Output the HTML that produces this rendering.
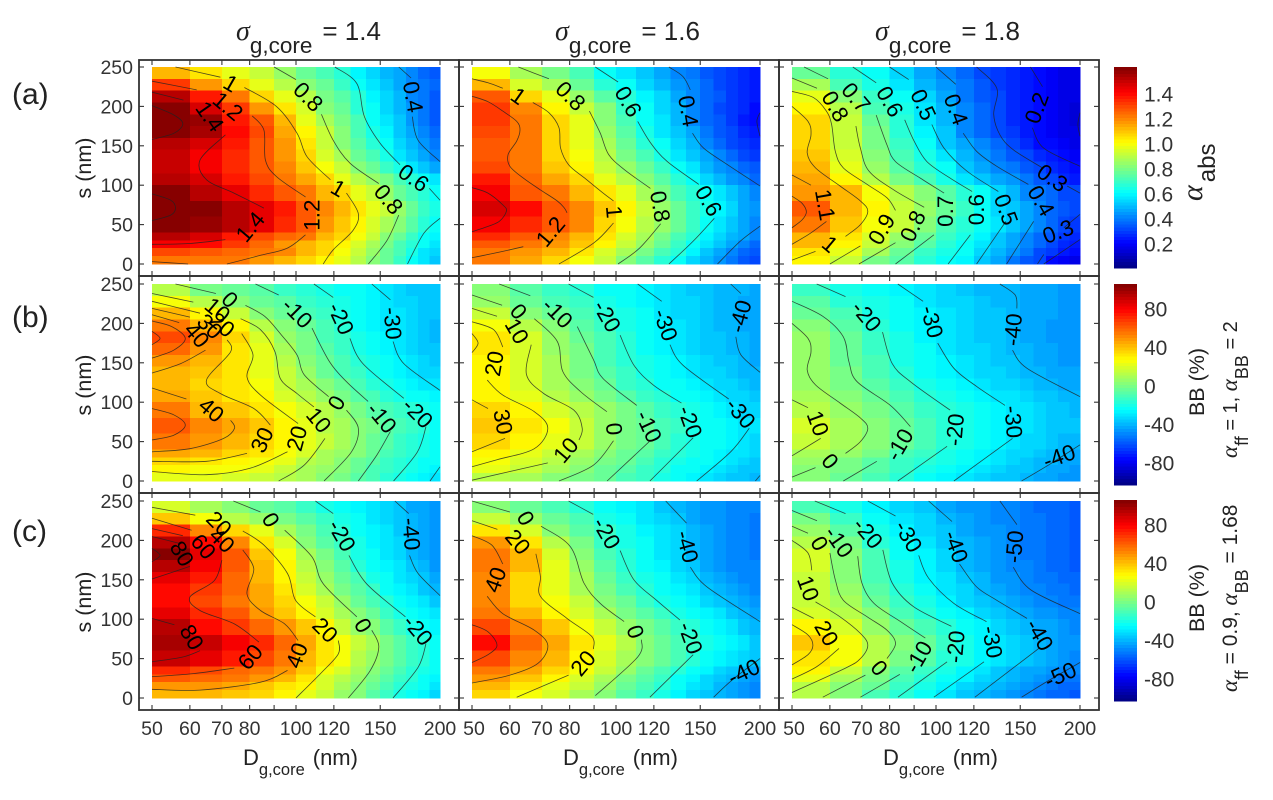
<!DOCTYPE html>
<html lang="en">
<head>
<meta charset="utf-8">
<title>Absorption and BB contour panels</title>
<style>
html,body{margin:0;padding:0;background:#fff;width:1273px;height:800px;overflow:hidden}
svg{display:block;font-family:"Liberation Sans",sans-serif;filter:blur(0.3px)}
.tick{font-size:19.5px;fill:#333}
.cl{font-size:22.5px;fill:#000}
.sg{font-family:"Liberation Serif",serif;font-style:italic}
.lab{fill:#222}
</style>
</head>
<body>
<svg id="chart" width="1273" height="800" viewBox="0 0 1273 800" xmlns="http://www.w3.org/2000/svg">
<rect width="1273" height="800" fill="#fff"/>
<g id="panels"></g>
<g id="colorbars"></g>

<g class="lab">
<text x="236" y="40" font-size="26"><tspan class="sg" font-size="28">σ</tspan><tspan font-size="22.5" dy="13">g,core</tspan><tspan dy="-13" dx="10">= 1.4</tspan></text>
<text x="555" y="40" font-size="26"><tspan class="sg" font-size="28">σ</tspan><tspan font-size="22.5" dy="13">g,core</tspan><tspan dy="-13" dx="10">= 1.6</tspan></text>
<text x="875" y="40" font-size="26"><tspan class="sg" font-size="28">σ</tspan><tspan font-size="22.5" dy="13">g,core</tspan><tspan dy="-13" dx="10">= 1.8</tspan></text>
</g>

<g class="lab" font-size="30">
<text x="12" y="104">(a)</text>
<text x="12" y="327">(b)</text>
<text x="12" y="541">(c)</text>
</g>

<g class="lab" font-size="21.5">
<text transform="translate(91,168) rotate(-90)" text-anchor="middle">s (nm)</text>
<text transform="translate(91,385) rotate(-90)" text-anchor="middle">s (nm)</text>
<text transform="translate(91,602) rotate(-90)" text-anchor="middle">s (nm)</text>
</g>

<g class="lab" font-size="22">
<text x="243" y="765">D<tspan font-size="16.5" dy="10">g,core</tspan><tspan dy="-10" dx="8">(nm)</tspan></text>
<text x="563" y="765">D<tspan font-size="16.5" dy="10">g,core</tspan><tspan dy="-10" dx="8">(nm)</tspan></text>
<text x="883" y="765">D<tspan font-size="16.5" dy="10">g,core</tspan><tspan dy="-10" dx="8">(nm)</tspan></text>
</g>

<g class="lab">
<text transform="translate(1202,201) rotate(-90)" font-size="24"><tspan class="sg" font-size="30">α</tspan><tspan dy="13" dx="3">abs</tspan></text>
<text transform="translate(1204,382) rotate(-90)" text-anchor="middle" font-size="21.5">BB (%)</text>
<text transform="translate(1204,598) rotate(-90)" text-anchor="middle" font-size="21.5">BB (%)</text>
<text transform="translate(1237,458) rotate(-90)" font-size="20"><tspan class="sg" font-size="23">α</tspan><tspan font-size="18" dy="11">ff</tspan><tspan dy="-11"> = 1, </tspan><tspan class="sg" font-size="23">α</tspan><tspan font-size="18" dy="11">BB</tspan><tspan dy="-11"> = 2</tspan></text>
<text transform="translate(1237,692) rotate(-90)" font-size="21"><tspan class="sg" font-size="23">α</tspan><tspan font-size="18" dy="11">ff</tspan><tspan dy="-11"> = 0.9, </tspan><tspan class="sg" font-size="23">α</tspan><tspan font-size="18" dy="11">BB</tspan><tspan dy="-11"> = 1.68</tspan></text>
</g>
</svg>

<script>
// ---- axes data ----
const dEdges = [50,60,70,80,90,100,110,120,130,140,150,160,170,180,190,200];
const sEdges = [250,235,220,205,190,175,160,145,130,115,100,80,60,40,30,20,10,0];
const dTicks = [50,60,70,80,90,100,120,150,200];
const dTickLabels = [50,60,70,80,100,120,150,200];
const sTicks = [0,50,100,150,200,250];
const alphaBarTicks = ['0.2','0.4','0.6','0.8','1.0','1.2','1.4'];
const bbBarTicks = ['-80','-40','0','40','80'];

// ---- heat values: rows run top (s=250) to bottom (s=0); columns D=50..190 ----
// Row (a) holds alpha_abs x 100; rows (b) and (c) hold BB in %.
const heatA14 = [
[112,104,96,90,84,77,71,65,59,54,49,45,40,37,34],
[130,117,105,96,89,82,75,69,62,57,52,47,42,38,35],
[150,135,120,107,97,89,79,73,65,59,54,48,42,38,34],
[160,145,130,117,104,93,82,75,67,60,54,49,43,38,33],
[160,155,137,125,110,97,87,78,70,62,56,50,44,39,34],
[160,153,138,128,114,100,90,80,72,64,58,52,46,40,35],
[152,146,136,127,116,103,92,82,74,66,60,54,48,43,38],
[148,142,134,125,116,105,94,85,77,70,63,57,51,46,41],
[148,142,134,126,118,109,99,90,82,76,69,63,56,51,46],
[152,145,136,128,120,114,105,97,89,84,78,72,65,60,55],
[160,152,144,133,125,121,112,105,97,90,83,77,72,66,60],
[160,158,152,144,135,127,119,111,103,96,90,83,75,69,63],
[158,156,150,143,133,125,117,108,100,93,86,80,73,67,62],
[150,146,137,128,123,120,112,105,98,90,82,75,68,62,58],
[140,138,131,124,117,111,106,101,93,85,78,72,65,60,56],
[128,126,124,122,119,111,105,98,90,83,76,70,63,57,53],
[120,120,120,115,110,105,102,96,89,82,75,68,60,55,51]];
const heatA16 = [
[98,86,78,71,62,56,51,46,42,38,34,31,28,25,23],
[112,94,85,76,67,60,54,49,44,40,36,32,29,26,24],
[125,107,95,84,74,65,58,53,47,42,37,33,29,26,24],
[130,118,102,90,80,69,61,54,48,42,36,32,28,25,22],
[130,122,107,96,82,71,61,55,49,42,37,33,28,24,21],
[128,121,107,97,84,73,64,57,51,45,39,34,30,26,23],
[127,120,106,96,85,75,67,60,54,48,42,37,32,28,25],
[127,120,107,98,88,78,70,63,57,51,45,40,36,32,29],
[128,120,109,101,92,83,75,68,61,55,49,44,40,36,33],
[135,124,114,105,97,88,80,73,66,60,54,49,44,40,37],
[142,127,121,111,103,95,87,79,72,66,60,55,50,46,42],
[147,139,127,118,108,100,91,84,76,69,63,58,53,47,43],
[142,134,127,118,107,98,89,83,77,69,62,56,50,45,42],
[133,127,119,112,104,94,87,79,71,65,59,54,49,45,41],
[125,122,116,108,100,91,83,76,69,62,56,51,45,40,37],
[122,116,110,103,94,86,78,72,65,58,52,47,40,36,33],
[120,114,107,98,90,81,74,67,60,54,48,43,38,34,31]];
const heatA18 = [
[76,66,60,53,47,42,37,32,28,25,23,20,18,16,15],
[86,72,63,56,49,44,38,33,29,26,24,21,19,17,16],
[95,82,68,60,53,46,39,34,30,27,24,21,19,17,15],
[102,89,72,63,55,48,40,35,30,27,23,20,18,16,14],
[106,90,77,66,57,49,41,36,31,27,23,20,18,16,14],
[107,91,78,67,58,50,42,37,32,28,24,21,19,17,15],
[107,92,79,68,60,52,45,40,35,30,27,22,20,18,16],
[108,93,80,70,63,56,48,43,38,34,30,26,23,20,18],
[110,96,83,74,67,60,52,47,42,38,34,30,26,23,20],
[113,100,88,79,71,64,57,52,47,43,38,34,30,27,24],
[116,110,98,88,81,73,67,60,53,48,42,39,35,32,30],
[126,110,102,92,84,75,68,61,54,50,45,40,37,34,32],
[120,108,99,91,80,72,66,60,55,50,45,40,36,32,29],
[110,103,94,84,77,69,63,58,52,47,42,37,33,29,26],
[110,100,90,82,74,67,61,56,51,45,40,35,31,27,24],
[104,95,85,77,69,64,60,54,48,43,38,32,28,24,21],
[100,91,79,73,66,62,58,50,45,39,34,31,22,19,17]];
const heatB14 = [
[10,-1,-5,-9,-13,-16,-19,-22,-25,-28,-30,-33,-35,-36,-37],
[24,12,2,-4,-9,-13,-18,-20,-23,-26,-29,-32,-34,-35,-37],
[38,28,14,3,-4,-10,-15,-19,-23,-26,-29,-31,-33,-35,-37],
[53,40,26,11,1,-5,-11,-17,-22,-26,-29,-31,-33,-36,-38],
[60,49,32,18,6,-3,-10,-15,-20,-24,-27,-30,-33,-36,-38],
[54,44,31,20,8,-2,-9,-14,-19,-23,-26,-29,-32,-35,-37],
[46,39,30,20,11,1,-6,-12,-17,-21,-25,-28,-31,-34,-36],
[40,36,30,21,13,4,-4,-10,-15,-20,-23,-26,-29,-32,-34],
[38,34,29,22,15,8,1,-5,-11,-16,-19,-23,-26,-29,-31],
[42,36,31,25,18,12,5,-1,-7,-12,-16,-19,-22,-25,-27],
[50,40,35,31,24,16,10,4,-2,-7,-12,-15,-18,-21,-23],
[58,48,42,35,28,20,12,7,3,-2,-7,-12,-15,-18,-22],
[50,44,39,34,26,20,13,7,1,-4,-9,-13,-16,-20,-23],
[42,38,33,29,23,16,9,4,0,-6,-11,-14,-17,-21,-24],
[33,31,28,23,19,12,7,1,-4,-8,-13,-16,-19,-22,-25],
[25,23,22,20,14,9,5,0,-5,-10,-14,-18,-21,-24,-27],
[21,20,18,14,11,7,3,-2,-7,-11,-16,-19,-23,-26,-29]];
const heatB16 = [
[1,-8,-13,-18,-22,-25,-28,-31,-33,-35,-37,-38,-39,-40,-41],
[6,-4,-10,-15,-20,-23,-27,-30,-32,-34,-36,-38,-39,-41,-42],
[14,3,-5,-11,-16,-21,-25,-29,-32,-34,-36,-38,-40,-41,-42],
[23,11,1,-7,-13,-19,-24,-28,-31,-34,-36,-38,-40,-42,-43],
[30,17,4,-4,-12,-18,-23,-27,-30,-33,-36,-37,-38,-40,-43],
[31,17,6,-3,-11,-17,-22,-26,-29,-32,-35,-37,-38,-40,-42],
[27,16,7,-2,-10,-16,-21,-25,-28,-31,-33,-35,-37,-39,-41],
[26,16,8,-1,-9,-15,-20,-24,-27,-30,-32,-34,-36,-38,-40],
[25,17,9,2,-6,-13,-18,-22,-25,-28,-30,-32,-34,-36,-38],
[28,20,12,6,-2,-9,-14,-18,-22,-25,-28,-30,-32,-34,-36],
[33,26,18,12,4,-3,-9,-14,-18,-21,-24,-27,-29,-32,-34],
[37,29,22,14,6,-1,-6,-11,-15,-19,-23,-25,-27,-29,-31],
[34,28,19,13,6,-1,-6,-12,-16,-19,-23,-25,-27,-29,-32],
[26,20,13,9,2,-4,-9,-14,-18,-21,-24,-26,-29,-31,-33],
[22,18,12,6,-1,-6,-11,-16,-20,-23,-25,-28,-31,-33,-35],
[19,13,8,2,-4,-9,-14,-18,-22,-25,-27,-31,-33,-35,-37],
[12,8,3,-1,-6,-11,-15,-20,-24,-27,-30,-33,-35,-37,-39]];
const heatB18 = [
[-13,-20,-24,-28,-31,-34,-36,-38,-39,-40,-41,-42,-43,-44,-45],
[-9,-16,-21,-25,-29,-32,-34,-36,-38,-39,-41,-42,-43,-44,-45],
[-4,-12,-19,-24,-28,-31,-33,-35,-37,-39,-41,-42,-43,-44,-45],
[1,-9,-17,-23,-27,-30,-33,-35,-37,-39,-41,-42,-44,-45,-46],
[5,-6,-15,-21,-26,-30,-33,-35,-37,-39,-41,-43,-44,-45,-46],
[5,-5,-14,-20,-25,-29,-32,-34,-36,-38,-40,-42,-43,-44,-45],
[6,-4,-12,-19,-24,-28,-31,-33,-35,-37,-39,-41,-42,-44,-45],
[5,-3,-11,-17,-23,-26,-29,-32,-34,-36,-38,-40,-41,-42,-43],
[5,-2,-8,-14,-20,-24,-27,-30,-32,-34,-36,-38,-39,-41,-42],
[8,1,-6,-11,-16,-20,-24,-27,-29,-31,-33,-35,-37,-38,-40],
[12,5,-3,-9,-13,-18,-21,-24,-27,-29,-31,-33,-35,-36,-38],
[16,7,1,-5,-11,-16,-20,-23,-26,-29,-31,-33,-35,-36,-37],
[14,7,0,-6,-12,-16,-21,-24,-27,-29,-32,-34,-36,-38,-39],
[8,4,-3,-10,-15,-20,-23,-26,-29,-32,-34,-36,-38,-40,-41],
[5,-1,-7,-13,-18,-21,-25,-28,-31,-33,-36,-38,-40,-42,-43],
[2,-3,-9,-15,-20,-24,-27,-30,-33,-35,-37,-39,-41,-43,-44],
[1,-6,-12,-18,-22,-26,-30,-32,-35,-37,-39,-41,-43,-44,-45]];
const heatC14 = [
[18,9,1,-4,-9,-13,-19,-23,-27,-30,-33,-37,-41,-43,-45],
[36,22,12,5,-3,-9,-15,-20,-25,-29,-32,-36,-40,-42,-44],
[66,48,32,20,8,-3,-11,-17,-23,-27,-31,-35,-39,-42,-45],
[90,72,48,30,16,1,-7,-14,-21,-26,-30,-34,-38,-43,-45],
[100,80,58,36,24,9,-3,-11,-20,-25,-29,-33,-38,-42,-45],
[90,76,58,38,25,12,0,-8,-17,-23,-27,-31,-36,-40,-44],
[80,70,56,40,27,15,5,-4,-12,-20,-25,-29,-33,-36,-42],
[74,65,54,42,30,18,9,-1,-9,-15,-22,-27,-31,-35,-39],
[72,62,52,42,32,22,13,4,-4,-11,-18,-24,-28,-31,-35],
[80,67,57,46,37,28,18,8,0,-5,-13,-19,-25,-28,-31],
[90,74,65,54,45,37,25,14,6,0,-7,-14,-20,-24,-28],
[92,86,75,66,54,42,30,22,14,7,-1,-7,-13,-18,-22],
[86,80,71,62,50,40,30,22,12,5,-2,-8,-13,-18,-23],
[68,60,55,50,44,36,24,16,8,1,-6,-11,-16,-20,-25],
[59,55,51,44,38,29,18,12,5,-3,-9,-14,-18,-23,-28],
[46,44,42,37,31,25,16,9,2,-5,-11,-16,-20,-25,-30],
[40,38,35,32,27,21,13,5,0,-7,-13,-19,-24,-28,-33]];
const heatC16 = [
[3,-5,-11,-16,-23,-27,-31,-35,-38,-41,-44,-46,-48,-49,-50],
[15,5,-5,-12,-19,-24,-29,-33,-36,-41,-44,-46,-48,-49,-51],
[30,18,3,-7,-15,-21,-26,-31,-34,-39,-43,-46,-48,-49,-51],
[44,30,11,-3,-13,-20,-25,-30,-34,-39,-42,-45,-47,-49,-51],
[52,40,18,3,-10,-18,-23,-29,-34,-39,-43,-46,-48,-50,-51],
[50,38,19,5,-8,-16,-22,-27,-32,-37,-41,-45,-47,-49,-50],
[48,34,20,7,-6,-14,-20,-25,-30,-34,-39,-43,-46,-48,-49],
[47,34,20,9,-3,-11,-17,-22,-28,-31,-36,-40,-43,-45,-47],
[47,34,22,13,2,-6,-13,-19,-24,-28,-32,-35,-39,-42,-44],
[52,39,27,17,7,-1,-9,-14,-20,-24,-28,-31,-36,-39,-41],
[60,47,35,24,13,6,-3,-8,-14,-18,-23,-27,-31,-35,-38],
[72,56,43,30,19,10,3,-4,-10,-15,-20,-24,-28,-31,-35],
[60,49,40,28,18,9,2,-5,-11,-17,-22,-26,-30,-34,-37],
[50,42,33,23,14,4,-4,-10,-18,-23,-28,-33,-36,-40,-43],
[44,36,28,18,8,-2,-9,-15,-22,-27,-32,-36,-39,-43,-46],
[40,30,20,13,4,-4,-12,-18,-25,-30,-34,-38,-41,-44,-47],
[32,24,17,9,2,-7,-14,-21,-27,-32,-36,-40,-43,-46,-48]];
const heatC18 = [
[-11,-21,-28,-32,-37,-41,-44,-46,-48,-50,-52,-54,-55,-56,-57],
[-3,-15,-24,-29,-34,-39,-42,-44,-47,-49,-52,-53,-55,-56,-57],
[5,-9,-20,-26,-32,-37,-41,-44,-46,-48,-51,-53,-55,-56,-57],
[11,-3,-16,-24,-30,-35,-40,-43,-46,-48,-51,-53,-55,-56,-58],
[16,0,-12,-22,-28,-34,-39,-43,-46,-48,-51,-53,-55,-56,-58],
[16,1,-11,-21,-27,-33,-38,-42,-45,-48,-50,-52,-54,-55,-57],
[15,2,-10,-19,-26,-31,-36,-40,-44,-46,-49,-51,-53,-54,-56],
[15,4,-8,-17,-24,-29,-34,-38,-41,-44,-47,-49,-51,-53,-54],
[15,7,-4,-14,-21,-27,-32,-36,-39,-42,-45,-47,-49,-51,-52],
[18,11,0,-10,-17,-23,-28,-32,-35,-38,-41,-44,-46,-48,-49],
[26,17,5,-4,-12,-18,-23,-28,-32,-35,-38,-41,-43,-45,-47],
[36,22,12,2,-6,-13,-21,-26,-30,-34,-37,-39,-42,-44,-46],
[30,22,10,-1,-8,-16,-21,-27,-31,-34,-37,-39,-42,-45,-48],
[26,13,2,-7,-13,-20,-26,-31,-35,-38,-41,-43,-46,-48,-50],
[20,8,-2,-11,-17,-23,-28,-33,-37,-40,-43,-46,-49,-51,-53],
[12,3,-6,-14,-20,-26,-32,-36,-40,-43,-46,-49,-52,-54,-55],
[10,0,-10,-17,-23,-30,-35,-39,-43,-46,-49,-52,-54,-56,-57]];

// ---- contour traces: [level, D,s, D,s, ...] ----
const contA14 = [
[1.6,50,201,55.6,189,58,178,55.6,166,50,158],[1.6,50,89,54.7,81,56,71,54.7,62,50,55],
[1.4,50,218,58.2,208],[1.4,71.2,164,63,132,65,107,74.2,90,85.7,71],[1.4,71.2,31,60,26,50,25],
[1.2,50,232,62,221],[1.2,81,188,85.7,170,86.3,132,91,111,104.7,85],[1.2,104.7,37,95.8,20,84.3,11,71.7,0],[1.2,59.5,0,50,3],
[1,56,250,69.5,237],[1,78,224,91,200,100.5,166,105.5,136,118,107],[1,127.5,90,135,64,131.7,43,119.6,18,114,0],
[0.8,90,250,100,234],[0.8,113,190,119.6,157,129.6,128,149,102],[0.8,164,62,155,30,141.7,0],
[0.6,120.6,250,134,229,139,187,150,153,165,126],[0.6,190,96,200,81],[0.6,200,58,185,39,171,0],
[0.4,164,250,174,236],[0.4,175,187,180,157,200,130]];
const contA16 = [
[1.4,50,97,54,90,58,75,59,67,57,54,53,46,50,41],
[1.2,50,213,54,206,58,194,62,181,63,170,62,156,59.5,139,60,124,64,109,69.5,94,75.4,80,78,71,79,65],[1.2,64,22,58,16,53,11,50,8],
[1,50,235,54,230,58,223],[1,67,205,72.4,192,76,173,76.6,147,79.6,126,86,109,94,90,98.8,80],[1,98.8,52,90,27,76,0],
[0.8,62.5,250,72.4,235],[0.8,88,194,92.7,166,96.5,139,104,120,118,96],[0.8,124,51,112,20,101,0],
[0.6,90.5,250,101,231],[0.6,111,181,118,154,128,130,149,101],[0.6,160.5,58,145,29,129,0],
[0.4,129,250,138,238,143,221],[0.4,144.5,166,152.5,147,171,126,200,99],[0.4,200,48,182,29,163,0],
[0.2,200,192,197,181,200,162]];
const contA18 = [
[1.2,50,86,52.5,77,53.6,66,52.5,56,50,46],[1.1,50,113,54.8,100],[1.1,59,54,54.6,39,50,25],
[1,50,200,54,181,54.8,164,53.8,141,56,122,63,99,69.5,80,72,67,69.5,50,64.7,35],[1,56,16,50,5],
[0.9,50,219,55.5,211,59,194,60.5,177,61.6,143,64,122,71.8,101,79,84,82.3,68],[0.9,69.5,23,60,0],
[0.8,50,236,56.4,223],[0.8,68,175,69.5,147,72.4,118,81.6,94,94.5,72],[0.8,82.3,27,69,0],
[0.7,53,250,59.5,235],[0.7,75,189,79,151,82.3,130,92.7,109,104,90],[0.7,99,37,82.3,0],
[0.6,67,250,75,230],[0.6,86,183,90,156,95.7,130,107,109,119,92],[0.6,118,37,106,0],
[0.5,80,250,87.7,234],[0.5,98,177,104,147,116,118,135,92],[0.5,140,54,121.6,0],
[0.4,100,250,110,228],[0.4,114,166,121.6,143,134,124,156,101],[0.4,160,54,140.5,0],
[0.3,121.6,250,134,223,132,190,136,164,145,145,167,122],[0.3,188,99,200,90],[0.3,200,63,185,46],[0.3,168,12,163,0],
[0.2,157.5,250,167,225],[0.2,159,173,168,147,200,124],[0.2,200,31,168,0],
[0.15,200,192,198,177,200,162]];
const contB14 = [
[60,50,190,52,181,50,173],[50,50,203,55,196,58.7,181,55.5,166,50,156],[50,50,92,55.5,84,58.7,71,55.5,58,50,52],
[40,50,211,57,201],[40,64.7,166,57.4,149,50,137],[40,50,118,59,104],[40,73,77,74.4,67,70.6,54,60,41,50,37],
[30,50,219,60,208],[30,71.8,179,73,164,65,128,69.5,111,81.6,92,88.4,71],[30,79,35,65,25,50,25],
[20,50,228,63,213],[20,77,187,81.3,160,79,132,84.3,109,101,73],[20,96,37,80,16,65,8,50,12],
[10,50,238,61,227],[10,76.6,206,84.3,192,90.4,164,92.7,130,100.5,111,109,94],[10,115,54,104,20,92,0],
[0,56,250,68,238],[0,78.4,223,86,209,92.7,187,100.5,160,104,135,117,107],[0,127.5,90,135,67,130.6,37,114.5,0],
[-10,82.3,250,92,236],[-10,108,194,117.6,151,127.5,126,141.5,101],[-10,157.5,63,147.6,33,135,0],
[-20,109,250,119.6,233],[-20,129.6,181,138,149,168,105],[-20,187,69,179.5,37,160,0],
[-30,144,250,157.5,230],[-30,159.5,177,168,149,200,115],[-30,200,18,190.6,0]];
const contB16 = [
[30,50,187,51.5,175,50,163],[30,50,103,54,92],[30,58.6,54,50,37],
[20,50,202,55.5,192,58,170],[20,53.8,128,58,109,67.5,88,72,67,67.5,41,56.4,27,50,18],
[10,50,219,56.4,209],[10,66.5,173,65,135,70.6,111,81.6,90,85,67,83.7,52],[10,72,23,50,1],
[0,50,236,57.8,223],[0,67.5,206,75.4,177,77.4,139,84.5,113,95.7,88],[0,98.8,51,89.7,20,76,0],
[-10,57,250,66.2,235],[-10,83,196,89.7,154,94,130,110.5,96],[-10,117.4,50,95.8,0],
[-20,79.6,250,89.7,233],[-20,102,185,109,147,119.6,122,137,99],[-20,145,55,117.7,0],
[-30,111,250,124.6,228],[-30,129.6,173,138,147,172,104],[-30,190,67,173.7,37,147.5,0],
[-40,173.7,250,182.4,238],[-40,178,183,182.4,160,200,138],[-40,200,7,195.6,0]];
const contB18 = [
[10,50,103,54,93],[10,57.4,54,50,32],
[0,50,200,54,181,54.8,164,53.8,141,56,122,63,99,69.5,80,72,67,69.5,50,64.7,35],[0,56,17,50,5],
[-10,50,228,58,209,64,183,65.8,151,68.4,126,80.3,96,88.4,69],[-10,75.2,25,64,0],
[-20,56.3,250,64.7,234],[-20,77.3,189,81,149,88.4,126,107,90],[-20,105.5,44,83.2,0],
[-30,83.2,250,94,228],[-30,100.8,175,109,143,121.6,120,139.4,96],[-30,144.5,54,109,0],
[-40,136,250,146.4,236,147.6,219],[-40,144.5,166,155,143,200,107],[-40,200,46,173.7,22,151,0]];
const contC14 = [
[100,50,190,52,181,50,173],
[80,50,205,57.3,196],[80,60,167,50,151],[80,50,101,55.7,93],[80,63,60,58,52,50,46],
[60,50,215,58,206],[60,70,175,67.5,149,60,128,63,111,74.3,94,83.7,71],[60,74.3,38,61,31,50,27],
[40,50,228,60.5,213],[40,77.4,188,81.6,164,79,132,84.3,111,94.7,94,101,73],[40,96,35,84.3,20,63,10,50,11],
[20,50,242,61.6,232],[20,77.4,212,85.7,194,96,158,99.8,124,109.8,103],[20,122.6,73,122.6,56,112.5,31,100,0],
[0,74,250,84.3,236],[0,94.7,213,108,179,114,145,134,103],[0,144,86,149,65,143,35,128.6,0],
[-20,109.8,250,119.6,234],[-20,129,181,140.4,145,169.3,103],[-20,187,69,180,39,159.5,0],
[-40,161,250,172,234],[-40,172.7,181,180,158,200,130]];
const contC16 = [
[60,50,93,54,84,56.4,67,54,55,50,45],
[40,50,206,55,194,58,170],[40,53.8,129,58,107,67.5,86,72,67,68.7,44,60,29,50,19],
[20,50,225,56.5,214],[20,68,183,69.5,154,69.5,129,79,101,89,78,89.7,62],[20,79.6,29,62,1],
[0,50,250,60,236],[0,69.7,218,80.3,192,85.7,146,92.7,120,104,97],[0,113,74,111,52,90.5,3],
[-20,79.6,250,89.6,233],[-20,102,187,109,150,121.6,124,136,99],[-20,145,55,117.7,1],
[-40,127,250,140.4,222],[-40,143,166,155,141,200,97],[-40,200,50,175,23,160,1]];
const contC18 = [
[30,50,93,54,80,55.3,67,54,55,50,42],
[20,50,115,55.5,101],[20,62.7,63,56.4,40,50,24],
[10,50,200,54,184,55,162],[10,56,122,63,103,69.5,82,72,67,69.5,50,64.7,38,50,7],
[0,50,218,54,209],[0,60,184,61.6,150,64,124,71.8,103,79,86,82.3,69,79,50],[0,71.2,29,58,1],
[-10,50,238,56.4,225],[-10,68.6,180,70,146,74.2,120,84.3,97,95,76],[-10,84,30,69.5,1],
[-20,55.8,250,64.7,234],[-20,77.4,188,81,146,89.7,116,107.7,91],[-20,105.5,46,83.3,1],
[-30,72,250,82.3,231],[-30,92,181,96.5,152,109,120,127.5,97],[-30,126,46,99,1],
[-40,96.5,250,108,224],[-40,112,170,121.6,141,134,124,155,101],[-40,164,63,120.6,1],
[-50,136,250,147.6,220],[-50,145,166,158,137,200,107],[-50,200,45,170.7,21,151,1]];

// ---- inline contour labels: [text, D, s, rotation] ----
const labelsA14 = [['1.4',66,187,55],['1.2',72,200,40],['1',73,229,30],['0.8',106,212,45],['0.4',175.5,212,80],['0.6',176,109,35],['1',122.5,96,30],['0.8',156,82,50],['1.4',80.3,47,-50],['1.2',108,62,-90]];
const labelsA16 = [['1',62.5,213,35],['0.8',80.3,213,45],['0.6',106,206,60],['0.4',141.5,194,80],['1.2',73,41,-50],['1',99,66,85],['0.8',123.6,73,80],['0.6',156,80,60]];
const labelsA18 = [['1.1',58.6,75,80],['1',60,25,40],['0.9',77,44,-60],['0.8',89.5,48,-65],['0.7',104.7,67,-90],['0.6',121.6,69,-90],['0.5',140,69,70],['0.4',165.7,80,60],['0.3',175,109,35],['0.3',180,41,-20],['0.8',61.5,200,60],['0.7',68,211,50],['0.6',80,206,60],['0.5',94,202,65],['0.4',110,196,70],['0.2',162.5,198,-70]];
const labelsB14 = [['0',72.7,230,45],['10',68.5,217,40],['20',70,198,40],['30',66,196,45],['40',62,185,50],['40',66.5,90,40],['30',85,52,-65],['20',100.5,54,-75],['10',111.5,77,50],['0',121.6,99,-60],['-10',100.5,213,45],['-10',151,80,50],['-20',124,206,65],['-20',179.5,86,45],['-30',159,200,85]];
const labelsB16 = [['30',58,75,80],['20',55.7,149,-80],['10',62,190,60],['0',62.5,215,50],['10',78.6,39,-50],['0',99,66,85],['-10',75.4,213,45],['-10',117,69,65],['-20',95.7,209,60],['-20',142.7,75,70],['-30',126.8,198,70],['-30',182,86,50],['-40',182,209,-75]];
const labelsB18 = [['10',56.6,73,70],['0',60,25,50],['-10',84,46,-60],['-20',71.5,209,50],['-20',109.7,65,-85],['-30',98,202,75],['-30',145,75,85],['-40',145,192,-85],['-40',181,31,-20]];
const labelsC14 = [['20',69,221,45],['40',70,200,45],['60',64,192,50],['80',57.7,183,60],['80',60.5,77,60],['60',80.3,52,-50],['40',100.5,54,-70],['20',115,86,45],['0',88.5,226,60],['0',138,92,60],['-20',124.6,206,60],['-20',179.7,86,50],['-40',174,208,85]];
const labelsC16 = [['40',56,150,-70],['20',62.3,198,50],['0',64.7,228,60],['20',85.4,44,-50],['0',109.7,84,70],['-20',95.5,209,60],['-20',143,76,70],['-40',140.8,192,75],['-40',185,33,-25]];
const labelsC18 = [['20',59,82,60],['0',57,196,60],['10',54,139,70],['0',76,38,50],['-10',62.6,198,55],['-10',92,52,-60],['-20',72,209,50],['-20',110,65,-85],['-30',87.5,205,60],['-30',131,71,80],['-40',110,192,70],['-40',164.5,80,60],['-50',146,192,-85],['-50',182,29,-25]];

const panelList = [
 {id:'a-1-4',row:0,col:0,heat:heatA14,cont:contA14,labels:labelsA14,lo:0,hi:160},
 {id:'a-1-6',row:0,col:1,heat:heatA16,cont:contA16,labels:labelsA16,lo:0,hi:160},
 {id:'a-1-8',row:0,col:2,heat:heatA18,cont:contA18,labels:labelsA18,lo:0,hi:160},
 {id:'b-1-4',row:1,col:0,heat:heatB14,cont:contB14,labels:labelsB14,lo:-100,hi:100},
 {id:'b-1-6',row:1,col:1,heat:heatB16,cont:contB16,labels:labelsB16,lo:-100,hi:100},
 {id:'b-1-8',row:1,col:2,heat:heatB18,cont:contB18,labels:labelsB18,lo:-100,hi:100},
 {id:'c-1-4',row:2,col:0,heat:heatC14,cont:contC14,labels:labelsC14,lo:-100,hi:100},
 {id:'c-1-6',row:2,col:1,heat:heatC16,cont:contC16,labels:labelsC16,lo:-100,hi:100},
 {id:'c-1-8',row:2,col:2,heat:heatC18,cont:contC18,labels:labelsC18,lo:-100,hi:100}
];

// ---- layout and scales ----
const NS = 'http://www.w3.org/2000/svg';
const colLeft = [152,472,792];
const rowZero = [264,481,698];
const boxTop = [60,276,493];
const boxBottom = [276,493,710];
const boxLeft = [139,459,779];
const boxRight = [459,779,1099];
const plotW = 288, plotH = 197;

function xScale(col,d){return colLeft[col]+Math.log(d/50)/Math.log(4)*plotW;}
function yScale(row,s){return rowZero[row]-s/250*plotH;}
function clamp(v){return Math.max(0,Math.min(1,v));}
function jet(f){
  const q=Math.min(63,Math.max(0,Math.floor(f*64)));
  const t=(q+0.5)/64;
  const r=Math.round(255*clamp(1.5-Math.abs(4*t-3)));
  const g=Math.round(255*clamp(1.5-Math.abs(4*t-2)));
  const b=Math.round(255*clamp(1.5-Math.abs(4*t-1)));
  return 'rgb('+r+','+g+','+b+')';
}
function mk(tag,attrs,parent){
  const e=document.createElementNS(NS,tag);
  for(const k in attrs){e.setAttribute(k,attrs[k]);}
  parent.appendChild(e);
  return e;
}
function smooth(pts){
  let d='M'+pts[0][0].toFixed(1)+' '+pts[0][1].toFixed(1);
  for(let i=0;i<pts.length-1;i++){
    const p0=pts[Math.max(0,i-1)],p1=pts[i],p2=pts[i+1],p3=pts[Math.min(pts.length-1,i+2)];
    const c1x=p1[0]+(p2[0]-p0[0])/6,c1y=p1[1]+(p2[1]-p0[1])/6;
    const c2x=p2[0]-(p3[0]-p1[0])/6,c2y=p2[1]-(p3[1]-p1[1])/6;
    d+='C'+c1x.toFixed(1)+' '+c1y.toFixed(1)+' '+c2x.toFixed(1)+' '+c2y.toFixed(1)+' '+p2[0].toFixed(1)+' '+p2[1].toFixed(1);
  }
  return d;
}

const panelsRoot=document.getElementById('panels');
panelList.forEach(function(p){
  const g=mk('g',{},panelsRoot);
  
  

  // heatmap cells
  const cells=mk('g',{'shape-rendering':'crispEdges'},g);
  
  
  p.heat.forEach(function(rowVals,ri){
    rowVals.forEach(function(v,ci){
      const x0=xScale(p.col,dEdges[ci]),x1=xScale(p.col,dEdges[ci+1]);
      const y0=yScale(p.row,sEdges[ri]),y1=yScale(p.row,sEdges[ri+1]);
      const cell=mk('rect',{x:x0,y:y0,width:x1-x0+0.4,height:y1-y0+0.4,fill:jet((v-p.lo)/(p.hi-p.lo))},cells);
      
      
    });
  });

  // contour lines
  const cg=mk('g',{fill:'none',stroke:'#222','stroke-width':'0.8','stroke-opacity':'0.8'},g);
  
  
  p.cont.forEach(function(c){
    const pts=[];
    for(let i=1;i<c.length;i+=2){pts.push([xScale(p.col,c[i]),yScale(p.row,c[i+1])]);}
    const line=mk('path',{d:smooth(pts)},cg);
    
    
  });

  // contour labels
  p.labels.forEach(function(l){
    const x=xScale(p.col,l[1]),y=yScale(p.row,l[2]);
    const t=mk('text',{x:x,y:y+7.5,'text-anchor':'middle','class':'cl',transform:'rotate('+l[3]+' '+x+' '+y+')'},g);
    t.textContent=l[0];
    
    
  });

  // box
  const bx=boxLeft[p.col],by=boxTop[p.row],bw=boxRight[p.col]-bx,bh=boxBottom[p.row]-by;
  const box=mk('rect',{x:bx,y:by,width:bw,height:bh,fill:'none',stroke:'#333','stroke-width':'1.8'},g);
  
  

  // ticks
  dTicks.forEach(function(d){
    const x=xScale(p.col,d);
    const a=mk('line',{x1:x,x2:x,y1:boxBottom[p.row],y2:boxBottom[p.row]-5,stroke:'#333','stroke-width':'1.1'},g);
    
    
    const b=mk('line',{x1:x,x2:x,y1:boxTop[p.row],y2:boxTop[p.row]+5,stroke:'#333','stroke-width':'1.1'},g);
    
    
  });
  sTicks.forEach(function(s){
    const y=yScale(p.row,s);
    const a=mk('line',{x1:boxLeft[p.col],x2:boxLeft[p.col]+5,y1:y,y2:y,stroke:'#333','stroke-width':'1.1'},g);
    
    
    const b=mk('line',{x1:boxRight[p.col],x2:boxRight[p.col]-5,y1:y,y2:y,stroke:'#333','stroke-width':'1.1'},g);
    
    
    if(p.col===0){
      const t=mk('text',{x:133,y:y+7,'text-anchor':'end','class':'tick'},g);
      t.textContent=String(s);
      
      
    }
  });
  if(p.row===2){
    dTickLabels.forEach(function(d){
      const t=mk('text',{x:xScale(p.col,d)+(d===50&&p.col>0?2:0),y:735,'text-anchor':'middle','class':'tick'},g);
      t.textContent=String(d);
      
      
    });
  }
});

// ---- colorbars ----
const barRoot=document.getElementById('colorbars');
const barTop=[67,284,500];
const barX=1114, barW=23, barH=201;
function alphaY(v){return 144-(v-1)*125;}
function bbY(row,v){return (row===1?386:602)-v*0.9625;}
[0,1,2].forEach(function(row){
  const g=mk('g',{},barRoot);
  
  
  const bands=mk('g',{'shape-rendering':'crispEdges'},g);
  
  
  for(let i=0;i<64;i++){
    const r=mk('rect',{x:barX,y:barTop[row]+barH-(i+1)*barH/64,width:barW,height:barH/64+0.5,fill:jet((i+0.5)/64)},bands);
    
    
  }
  const ticks=row===0?alphaBarTicks:bbBarTicks;
  ticks.forEach(function(lbl){
    const y=row===0?alphaY(parseFloat(lbl)):bbY(row,parseFloat(lbl));
    const t=mk('text',{x:1144,y:y+7.5,'class':'tick','style':'font-size:21px'},g);
    t.textContent=lbl;
    
    
  });
});
</script>
</body>
</html>
